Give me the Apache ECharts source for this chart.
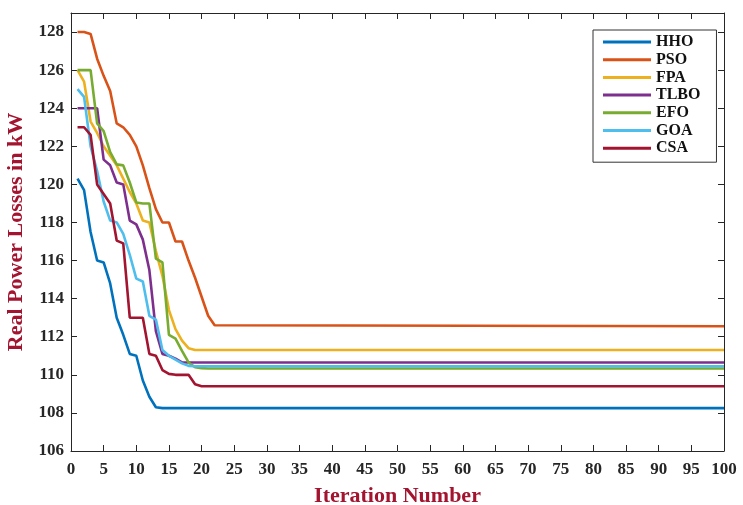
<!DOCTYPE html>
<html>
<head>
<meta charset="utf-8">
<script src="https://cdn.jsdelivr.net/npm/echarts@6/dist/echarts.min.js"></script>
<style>html,body{margin:0;padding:0;background:#fff;}#c{width:743px;height:505px;}</style>
</head>
<body>
<div id="c"></div>
<script>
const iters = [1,2,3,4,5,6,7,8,9,10,11,12,13,14,15,16,17,18,19,20,21,22,100];
const seriesNames = ['HHO','PSO','FPA','TLBO','EFO','GOA','CSA'];
const HHO  = [120.3,119.7,117.5,116.0,115.9,114.8,113.0,112.1,111.1,111.0,109.7,108.85,108.3,108.25,108.25,108.25,108.25,108.25,108.25,108.25,108.25,108.25,108.25];
const PSO  = [128,128,127.9,126.6,125.7,124.9,123.2,123.0,122.6,122.0,121.0,119.8,118.7,118.0,118.0,117.0,117.0,116.0,115.1,114.1,113.1,112.6,112.55];
const FPA  = [126,125.4,123.3,122.7,122.0,121.5,121.0,120.3,119.6,119.0,118.1,118.0,116.5,115.2,113.4,112.4,111.8,111.4,111.3,111.3,111.3,111.3,111.3];
const TLBO = [124,124,124,124,121.3,121.0,120.1,120.0,118.1,117.9,117.1,115.5,112.3,111.1,111.0,110.85,110.65,110.65,110.65,110.65,110.65,110.65,110.65];
const EFO  = [126,126,126,123.2,122.8,121.7,121.05,121.0,120.1,119.05,119.0,119.0,116.1,115.9,112.1,111.9,111.26,110.65,110.4,110.35,110.33,110.33,110.33];
const GOA  = [125.0,124.6,122.0,120.7,119.1,118.1,118.0,117.4,116.3,115.05,114.9,113.1,112.9,111.3,111.0,110.8,110.6,110.47,110.45,110.45,110.45,110.45,110.45];
const CSA  = [123,123,122.6,120.0,119.5,119.0,117.05,116.9,113.0,113.0,113.0,111.1,111.0,110.25,110.05,110.0,110.0,110.0,109.5,109.4,109.4,109.4,109.4];
const xTicks = {min:0, max:100, interval:5};
const yTicks = {min:106, max:129, interval:2};
const colors = ['#0072BD','#D95319','#EDB120','#7E2F8E','#77AC30','#4DBEEE','#A2142F'];
const allValues = [HHO,PSO,FPA,TLBO,EFO,GOA,CSA];

const font = 'Liberation Serif';
const axisColor = '#262626';
const chart = echarts.init(document.getElementById('c'), null, {renderer:'canvas'});
const baseX = {
  type:'value', min:xTicks.min, max:xTicks.max, interval:xTicks.interval,
  axisLine:{show:true, onZero:false, lineStyle:{color:axisColor, width:1}},
  axisTick:{show:true, inside:true, length:6, lineStyle:{color:axisColor}},
  splitLine:{show:false}
};
const baseY = {
  type:'value', min:yTicks.min, max:yTicks.max, interval:yTicks.interval,
  axisLine:{show:true, onZero:false, lineStyle:{color:axisColor, width:1}},
  axisTick:{show:true, inside:true, length:6, lineStyle:{color:axisColor}},
  splitLine:{show:false}
};
chart.setOption({
  animation:false,
  backgroundColor:'#fff',
  grid:{left:71, right:19, top:13, bottom:54, containLabel:false, outerBoundsMode:'none'},
  xAxis:[
    Object.assign({}, baseX, {
      position:'bottom',
      name:'Iteration Number', nameLocation:'middle', nameGap:34,
      nameTextStyle:{fontFamily:font, fontWeight:'bold', fontSize:22, color:'#a2142f'},
      axisLabel:{show:true, margin:10, fontFamily:font, fontWeight:'bold', fontSize:17, color:'#262626'}
    }),
    Object.assign({}, baseX, {position:'top', axisLabel:{show:false}})
  ],
  yAxis:[
    Object.assign({}, baseY, {
      position:'left',
      name:'Real Power Losses in kW', nameLocation:'middle', nameGap:42,
      nameTextStyle:{fontFamily:font, fontWeight:'bold', fontSize:22, color:'#a2142f'},
      axisLabel:{show:true, margin:7, fontFamily:font, fontWeight:'bold', fontSize:17, color:'#262626',
        formatter:function(v){ return (v % 2 === 0) ? String(v) : ''; }}
    }),
    Object.assign({}, baseY, {position:'right', axisLabel:{show:false}})
  ],
  legend:{
    orient:'vertical', left:593, top:30,
    data:seriesNames,
    icon:'rect', itemWidth:48, itemHeight:3, itemGap:1.7,
    padding:[4,16,6,10],
    borderColor:'#333', borderWidth:1, backgroundColor:'#fff',
    textStyle:{fontFamily:font, fontWeight:'bold', fontSize:16, lineHeight:16, color:'#111'}
  },
  series: seriesNames.map(function(n, k){
    return {
      name:n, type:'line', xAxisIndex:0, yAxisIndex:0,
      data: iters.map(function(it, j){ return [it, allValues[k][j]]; }),
      showSymbol:false, symbol:'none',
      lineStyle:{color:colors[k], width:2.6},
      itemStyle:{color:colors[k]},
      z: 2 + k
    };
  })
});
</script>
</body>
</html>
